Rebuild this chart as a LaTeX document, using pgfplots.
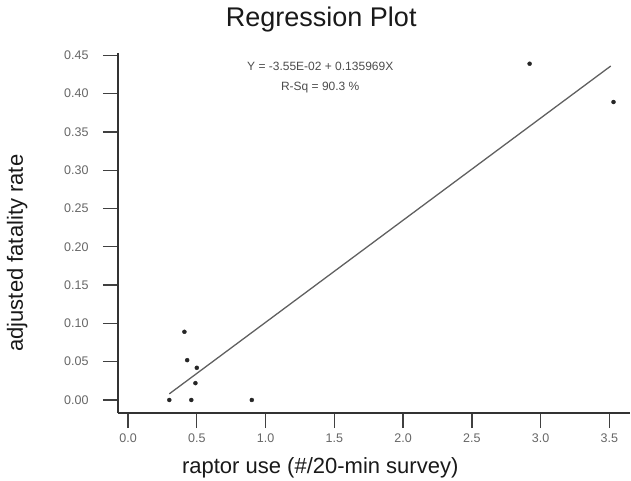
\documentclass[border=0pt]{standalone}
\usepackage{fontspec}
\setmainfont{Liberation Sans}
\usepackage{pgfplots}
\pgfplotsset{compat=1.18}
\begin{document}
\begin{tikzpicture}
\begin{axis}[
  scale only axis,
  width=512pt, height=360pt,
  xmin=-0.073, xmax=3.65,
  ymin=-0.017, ymax=0.453,
  axis lines*=left,
  axis line style={black!80, line width=1.4pt},
  tick align=outside,
  major tick length=15pt,
  tick style={black!75, line width=1.3pt},
  xtick={0,0.5,...,3.5},
  ytick={0,0.05,...,0.45},
  /pgf/number format/assume math mode=true,
  xticklabel style={/pgf/number format/fixed, /pgf/number format/zerofill,
    /pgf/number format/precision=1, font=\fontsize{12.5}{14}\selectfont, text=black!60, yshift=-2pt},
  yticklabel style={/pgf/number format/fixed, /pgf/number format/zerofill,
    /pgf/number format/precision=2, font=\fontsize{12.5}{14}\selectfont, text=black!60, xshift=-11pt},
  clip=false,
  title={Regression Plot},
  title style={at={(axis description cs:0.397,1.058)}, anchor=base,
    font=\fontsize{27}{32}\selectfont, text=black!90},
  xlabel={raptor use (\#/20-min survey)},
  xlabel style={at={(axis description cs:0.395,-0.169)}, anchor=base,
    font=\fontsize{22}{26}\selectfont, text=black!90},
  ylabel={adjusted fatality rate},
  ylabel style={at={(axis description cs:-0.197,0.444)}, anchor=center,
    font=\fontsize{22}{26}\selectfont, text=black!90},
]
% fitted line Y = -0.0355 + 0.135969 X over the data range
\addplot[gray!75!black, line width=1.3pt] coordinates {(0.30,0.008) (3.51,0.436)};
\addplot[only marks, mark=*, mark size=2pt, black!85] coordinates {
  (0.30,0.000) (0.46,0.000) (0.49,0.022) (0.50,0.042) (0.43,0.052)
  (0.41,0.089) (0.90,0.000) (2.92,0.439) (3.53,0.389)
};
\node[font=\fontsize{12}{14}\selectfont, text=black!70] at (axis description cs:0.395,0.964) {Y = -3.55E-02 + 0.135969X};
\node[font=\fontsize{12}{14}\selectfont, text=black!70] at (axis description cs:0.395,0.905) {R-Sq = 90.3 \%};
\end{axis}
\pgfresetboundingbox
\path ([shift={(-118pt,-68pt)}]current axis.south west) rectangle ([shift={(1pt,53pt)}]current axis.north east);
\end{tikzpicture}
\end{document}
